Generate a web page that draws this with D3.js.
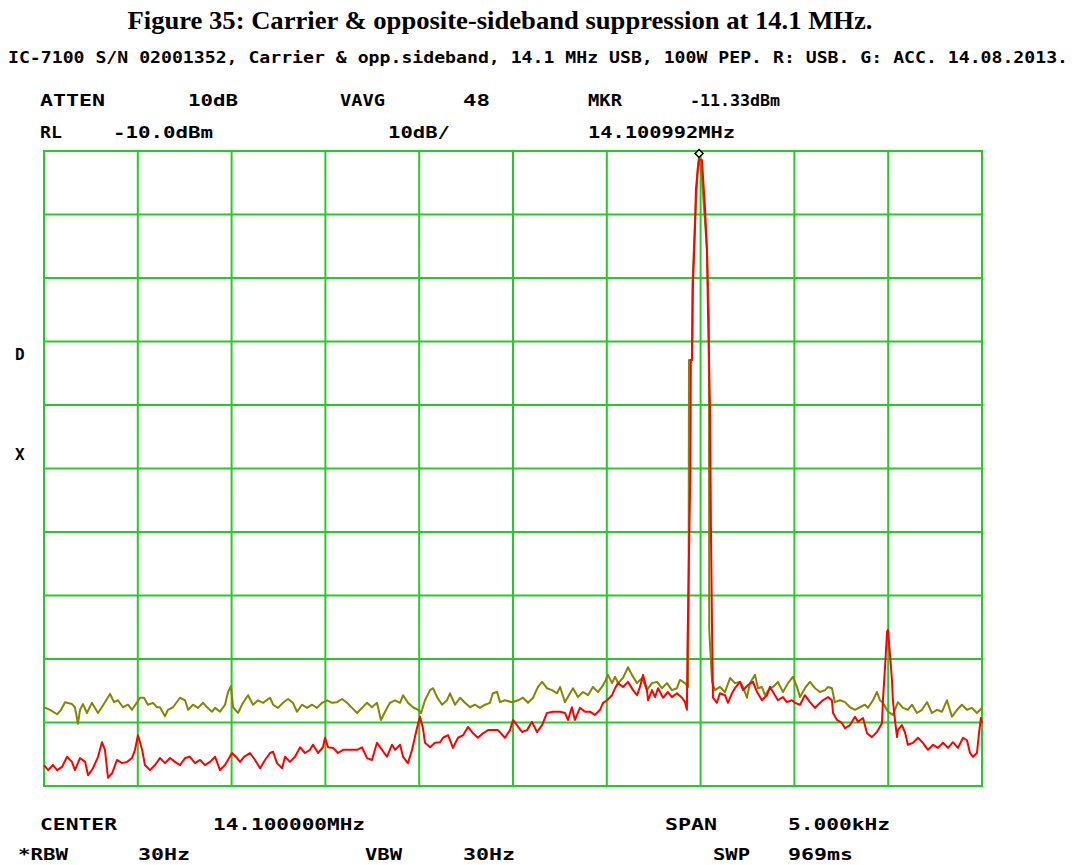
<!DOCTYPE html>
<meta charset="utf-8">
<style>
body { margin: 0; background: #fff; }
svg { display: block; }
.lbl { font-family: "DejaVu Sans Mono", monospace; font-weight: bold; font-size: 16px; fill: #000; }
.title { font-family: "Liberation Serif", serif; font-weight: bold; font-size: 26px; fill: #000; }
.grid line { stroke: #28c828; stroke-width: 2px; }
.trace { fill: none; stroke-width: 2px; stroke-linejoin: round; }
</style>
<svg></svg>
<script src="https://d3js.org/d3.v7.min.js"></script>
<script>

var width = 1076,
    height = 865;

// sweep settings: centre 14.1 MHz, 5 kHz span, RL -10 dBm, 10 dB/div
var spanHz = 5000,
    refLevel = -10,
    bottomLevel = -110;

// [offset from centre in Hz, level in dBm]  -- G: ACC input
var accTrace = [
  [-2500,-97.6],[-2468,-98.0],[-2430,-98.7],[-2409,-98.0],[-2388,-96.8],[-2351,-97.1],
  [-2335,-97.6],[-2319,-100.2],[-2308,-98.0],[-2292,-97.1],[-2271,-98.5],[-2245,-96.9],
  [-2212,-98.5],[-2175,-96.8],[-2148,-95.5],[-2127,-96.8],[-2106,-96.5],[-2079,-97.6],
  [-2052,-97.2],[-2031,-98.0],[-2004,-96.8],[-1988,-96.1],[-1967,-96.1],[-1946,-97.2],
  [-1919,-96.9],[-1898,-97.6],[-1882,-97.6],[-1855,-99.0],[-1839,-98.0],[-1812,-97.6],
  [-1775,-96.1],[-1748,-96.5],[-1732,-98.0],[-1706,-97.2],[-1679,-97.7],[-1652,-96.9],
  [-1631,-97.6],[-1604,-98.3],[-1588,-97.7],[-1562,-98.3],[-1535,-97.2],[-1519,-95.2],
  [-1503,-94.3],[-1492,-97.6],[-1466,-98.5],[-1439,-96.9],[-1412,-95.7],[-1386,-97.2],
  [-1359,-96.5],[-1333,-96.9],[-1295,-96.1],[-1279,-97.2],[-1253,-97.7],[-1226,-96.9],
  [-1199,-96.3],[-1173,-96.9],[-1151,-98.3],[-1125,-97.2],[-1098,-97.7],[-1071,-97.2],
  [-1045,-97.7],[-1018,-96.9],[-991,-96.5],[-965,-96.9],[-938,-96.8],[-911,-96.3],
  [-885,-96.9],[-858,-97.7],[-831,-98.5],[-805,-97.7],[-778,-96.9],[-752,-97.6],
  [-725,-96.9],[-704,-99.6],[-682,-98.3],[-656,-96.9],[-629,-96.5],[-602,-96.9],
  [-586,-95.7],[-560,-96.9],[-533,-97.6],[-506,-98.0],[-490,-98.5],[-469,-96.5],
  [-442,-94.9],[-426,-94.6],[-405,-96.0],[-378,-97.2],[-352,-96.5],[-336,-95.4],
  [-309,-97.2],[-282,-96.1],[-256,-96.9],[-229,-97.6],[-203,-97.2],[-176,-97.7],
  [-149,-97.2],[-123,-96.9],[-107,-95.4],[-85,-95.2],[-69,-96.8],[-43,-96.5],
  [-5,-96.8],[27,-96.5],[53,-96.1],[80,-96.9],[107,-96.1],[133,-94.4],
  [155,-93.6],[181,-94.6],[208,-94.9],[235,-95.4],[251,-94.4],[277,-96.8],
  [304,-95.4],[320,-94.6],[346,-96.0],[373,-95.2],[400,-95.7],[426,-94.4],
  [453,-95.2],[474,-94.4],[490,-93.6],[506,-92.5],[528,-93.8],[544,-92.8],
  [560,-93.8],[586,-93.0],[613,-91.3],[634,-92.5],[661,-93.8],[688,-93.0],
  [714,-94.9],[741,-93.8],[768,-93.6],[794,-94.6],[821,-93.8],[847,-94.9],
  [874,-94.6],[890,-93.3],[917,-93.8],[933,-94.4],[936,-81.0],[938,-42.9],
  [954,-42.9],[957,-30.8],[968,-22.4],[979,-16.1],[986,-12.5],[991,-10.9],[1007,-14.1],
  [1018,-18.8],[1034,-25.6],[1044,-35.8],[1046,-85.4],[1061,-93.6],[1077,-94.9],
  [1103,-94.4],[1130,-95.2],[1157,-93.0],[1183,-93.8],[1210,-93.6],[1226,-94.4],
  [1247,-96.1],[1263,-93.8],[1290,-92.5],[1306,-94.6],[1327,-94.4],[1343,-95.7],
  [1370,-94.6],[1386,-94.4],[1412,-93.6],[1439,-95.2],[1466,-93.8],[1492,-92.8],
  [1514,-94.4],[1530,-96.0],[1556,-94.6],[1583,-93.6],[1610,-94.6],[1636,-95.2],
  [1663,-94.9],[1679,-94.4],[1700,-94.6],[1716,-96.8],[1743,-96.5],[1770,-96.8],
  [1796,-97.6],[1823,-98.0],[1850,-97.6],[1876,-97.2],[1892,-97.7],[1919,-96.5],
  [1940,-95.2],[1956,-96.5],[1972,-96.9],[1999,-98.3],[2025,-98.8],[2052,-96.8],
  [2079,-97.7],[2105,-98.0],[2127,-97.2],[2153,-98.5],[2180,-98.0],[2207,-96.8],
  [2233,-98.5],[2260,-98.0],[2287,-98.3],[2313,-96.5],[2340,-99.1],[2367,-98.0],
  [2393,-97.2],[2420,-98.0],[2446,-97.7],[2473,-98.5],[2500,-97.7]
];

// R: USB input
var usbTrace = [
  [-2500,-106.7],[-2478,-107.5],[-2452,-106.7],[-2430,-107.5],[-2404,-107.0],[-2377,-105.4],
  [-2351,-106.2],[-2335,-107.5],[-2308,-105.6],[-2281,-106.2],[-2265,-108.3],[-2239,-107.2],
  [-2212,-105.4],[-2191,-103.1],[-2175,-104.3],[-2159,-108.7],[-2137,-108.0],[-2111,-105.9],
  [-2084,-106.4],[-2057,-106.2],[-2031,-105.6],[-2015,-104.3],[-1999,-102.0],[-1977,-104.3],
  [-1962,-106.7],[-1935,-107.5],[-1908,-106.7],[-1882,-105.6],[-1855,-106.4],[-1828,-105.6],
  [-1802,-106.2],[-1775,-106.7],[-1748,-105.6],[-1722,-105.4],[-1695,-106.4],[-1668,-105.9],
  [-1642,-106.7],[-1615,-106.2],[-1588,-105.4],[-1562,-107.5],[-1535,-106.7],[-1498,-104.8],
  [-1471,-105.6],[-1455,-106.2],[-1434,-105.4],[-1402,-104.8],[-1375,-105.9],[-1348,-107.2],
  [-1322,-105.9],[-1295,-104.8],[-1279,-104.6],[-1258,-106.4],[-1231,-107.2],[-1215,-105.4],
  [-1189,-106.2],[-1162,-105.4],[-1135,-103.9],[-1109,-104.8],[-1082,-104.3],[-1066,-103.5],
  [-1039,-104.8],[-1013,-103.9],[-1002,-102.4],[-986,-103.9],[-959,-104.0],[-933,-104.8],
  [-906,-104.3],[-869,-104.3],[-831,-104.3],[-805,-103.9],[-778,-105.6],[-752,-105.9],
  [-725,-103.2],[-698,-104.3],[-672,-105.4],[-645,-103.5],[-629,-104.3],[-602,-103.5],
  [-586,-105.4],[-560,-106.4],[-538,-104.3],[-512,-100.9],[-496,-99.1],[-480,-100.9],
  [-469,-103.2],[-442,-103.9],[-416,-103.2],[-389,-103.1],[-373,-102.4],[-346,-102.0],
  [-320,-104.0],[-293,-102.4],[-266,-102.0],[-240,-100.7],[-213,-101.7],[-187,-102.4],
  [-160,-101.7],[-133,-101.2],[-107,-101.2],[-80,-101.2],[-43,-102.4],[-16,-101.2],
  [0,-99.6],[21,-100.4],[48,-101.5],[75,-101.2],[101,-99.9],[128,-101.5],
  [155,-100.4],[181,-98.5],[213,-98.3],[251,-98.3],[277,-98.5],[293,-99.6],
  [314,-97.6],[330,-99.6],[357,-97.7],[384,-98.3],[410,-98.3],[437,-98.8],
  [464,-98.0],[480,-96.9],[501,-96.5],[528,-95.7],[544,-94.6],[560,-93.8],
  [586,-94.4],[613,-93.6],[640,-94.9],[661,-95.7],[677,-94.4],[693,-92.5],
  [714,-94.9],[720,-96.5],[741,-94.9],[757,-96.0],[773,-94.6],[800,-96.1],
  [826,-95.2],[847,-96.0],[874,-95.4],[901,-96.1],[917,-96.8],[927,-98.0],
  [930,-88.6],[934,-81.0],[945,-61.0],[948,-42.9],[954,-42.9],[959,-31.1],
  [970,-22.4],[975,-16.1],[986,-12.5],[992,-11.33],[1007,-11.4],[1013,-14.1],
  [1023,-18.8],[1034,-25.6],[1039,-34.7],[1050,-50.3],[1055,-69.2],[1061,-85.4],
  [1066,-96.1],[1087,-96.9],[1103,-95.4],[1130,-95.7],[1146,-96.9],[1167,-95.4],
  [1183,-94.6],[1210,-93.6],[1226,-94.9],[1253,-94.1],[1279,-93.6],[1301,-95.2],
  [1327,-96.5],[1354,-95.7],[1370,-94.4],[1386,-95.2],[1412,-96.5],[1439,-96.0],
  [1460,-96.8],[1487,-96.5],[1503,-96.9],[1530,-97.2],[1556,-95.7],[1583,-96.8],
  [1610,-97.7],[1626,-97.2],[1652,-96.5],[1679,-96.0],[1700,-96.5],[1706,-98.5],
  [1727,-99.6],[1754,-100.1],[1770,-100.9],[1796,-100.4],[1823,-99.1],[1839,-99.9],
  [1866,-99.3],[1887,-101.7],[1913,-102.3],[1940,-101.5],[1967,-100.1],[1972,-96.5],
  [1983,-91.3],[1994,-85.7],[1999,-85.4],[2009,-89.1],[2020,-93.3],[2025,-96.5],
  [2036,-99.6],[2047,-102.3],[2052,-101.2],[2073,-100.4],[2089,-101.5],[2105,-103.5],
  [2132,-103.2],[2159,-102.4],[2185,-103.2],[2212,-104.3],[2239,-103.5],[2265,-104.0],
  [2292,-103.2],[2319,-104.0],[2345,-103.1],[2372,-104.0],[2399,-102.4],[2420,-102.8],
  [2436,-104.8],[2452,-105.4],[2473,-104.8],[2484,-101.7],[2494,-99.3],[2500,-100.1]
];

// marker: 14.100992 MHz, -11.33 dBm
var markerPoint = [992, -11.33];

var titleText = "Figure 35: Carrier & opposite-sideband suppression at 14.1 MHz.";
var subtitleText = "IC-7100 S/N 02001352, Carrier & opp.sideband, 14.1 MHz USB, 100W PEP. R: USB. G: ACC. 14.08.2013.";

var headerRow1 = ["ATTEN", "10dB", "VAVG", "48", "MKR", "-11.33dBm"];
var headerRow2 = ["RL", "-10.0dBm", "10dB/", "14.100992MHz"];
var sideMarks = ["D", "X"];
var footerRow1 = ["CENTER", "14.100000MHz", "SPAN", "5.000kHz"];
var footerRow2 = ["*RBW", "30Hz", "VBW", "30Hz", "SWP", "969ms"];

var svg = d3.select("svg")
    .attr("width", width)
    .attr("height", height);

var x = d3.scaleLinear()
    .domain([-spanHz / 2, spanHz / 2])
    .range([44, 982]);

var y = d3.scaleLinear()
    .domain([bottomLevel, refLevel])
    .range([786, 151]);

// graticule
var grid = svg.append("g").attr("class", "grid");

grid.selectAll(".vl")
    .data(x.ticks(10))
  .enter().append("line")
    .attr("x1", function(d) { return x(d); })
    .attr("x2", function(d) { return x(d); })
    .attr("y1", y.range()[0] + 1)
    .attr("y2", y.range()[1] - 1);

grid.selectAll(".hl")
    .data(y.ticks(10))
  .enter().append("line")
    .attr("x1", x.range()[0] - 1)
    .attr("x2", x.range()[1] + 1)
    .attr("y1", function(d) { return y(d); })
    .attr("y2", function(d) { return y(d); });

var line = d3.line()
    .x(function(d) { return x(d[0]); })
    .y(function(d) { return y(d[1]); });

svg.append("path")
    .attr("class", "trace")
    .attr("stroke", "#858500")
    .attr("d", line(accTrace));

svg.append("path")
    .attr("class", "trace")
    .attr("stroke", "#ff0000")
    .attr("d", line(usbTrace));

// marker diamond sits just above the peak
var mx = x(markerPoint[0]), my = y(markerPoint[1]) - 6;
svg.append("path")
    .attr("d", "M" + mx + "," + (my - 4) + "L" + (mx + 4) + "," + my + "L" + mx + "," + (my + 4) + "L" + (mx - 4) + "," + my + "Z")
    .attr("fill", "#fff")
    .attr("stroke", "#000")
    .attr("stroke-width", 1.5);

// titles
svg.append("text")
    .attr("class", "title")
    .attr("x", 500)
    .attr("y", 29)
    .attr("text-anchor", "middle")
    .attr("textLength", 745)
    .attr("lengthAdjust", "spacingAndGlyphs")
    .text(titleText);

svg.append("text")
    .attr("class", "lbl")
    .attr("x", 8)
    .attr("y", 63)
    .style("font-size", "15px")
    .attr("textLength", 1060)
    .attr("lengthAdjust", "spacingAndGlyphs")
    .text(subtitleText);

// instrument annotation: [x, width] per label
function labels(texts, pos, baseline) {
  svg.append("g").selectAll("text")
      .data(texts)
    .enter().append("text")
      .attr("class", "lbl")
      .attr("x", function(d, i) { return pos[i][0]; })
      .attr("y", baseline)
      .attr("textLength", function(d, i) { return pos[i][1]; })
      .attr("lengthAdjust", "spacingAndGlyphs")
      .text(function(d) { return d; });
}

labels(headerRow1, [[40, 65], [188, 50], [340, 45], [463, 27], [588, 34], [690, 90]], 106);
labels(headerRow2, [[40, 22], [113, 100], [388, 62], [588, 147]], 138);
labels(footerRow1, [[40, 77], [213, 152], [665, 52], [788, 102]], 830);
labels(footerRow2, [[18, 50], [138, 52], [365, 37], [463, 52], [713, 37], [788, 65]], 860);

svg.selectAll(".side")
    .data(sideMarks)
  .enter().append("text")
    .attr("class", "lbl")
    .attr("x", 15)
    .attr("y", function(d, i) { return 360 + i * 100; })
    .text(function(d) { return d; });

</script>
